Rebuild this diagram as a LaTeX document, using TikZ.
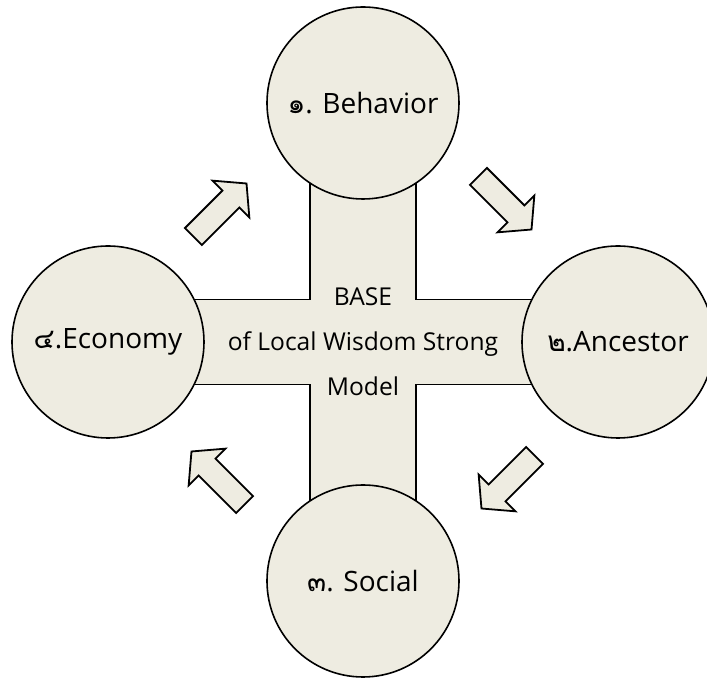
\documentclass[tikz,border=0pt]{standalone}
\usepackage{fontspec}
\setmainfont{Open Sans}
\newfontfamily\thaifont[Script=Thai]{Loma}
\usepackage{tikz}
\usetikzlibrary{positioning, calc}
\definecolor{parchment}{RGB}{238,236,225}
\newcommand\thnum[1]{{\thaifont #1}}

\begin{document}
\begin{tikzpicture}[
    topic/.style={
        circle,
        draw=black,
        line width=0.8pt,
        fill=parchment,
        minimum size=96pt,
        inner sep=0pt,
        font=\fontsize{14}{16}\selectfont
      },
    bar/.style={draw=black, line width=0.8pt, fill=parchment},
    turn/.pic={
        \draw[draw=black, line width=0.9pt, fill=parchment, line join=miter]
          (-18.75pt,-6pt) -- (7.75pt,-6pt) -- (7.75pt,-13pt) -- (18.75pt,0pt)
          -- (7.75pt,13pt) -- (7.75pt,6pt) -- (-18.75pt,6pt) -- cycle;
      },
    node distance=119.5pt and 127.5pt,
    on grid
  ]
  \useasboundingbox (-181.5pt,-168pt) rectangle (172pt,171pt);

  % the cross behind the four circles
  \draw[bar] (-26.5pt,119.5pt) -- (26.5pt,119.5pt) -- (26.5pt,21.25pt)
    -- (127.5pt,21.25pt) -- (127.5pt,-21.25pt) -- (26.5pt,-21.25pt)
    -- (26.5pt,-119.5pt) -- (-26.5pt,-119.5pt) -- (-26.5pt,-21.25pt)
    -- (-127.5pt,-21.25pt) -- (-127.5pt,21.25pt) -- (-26.5pt,21.25pt) -- cycle;

  \node[align=center, font=\fontsize{12.3}{22.5}\selectfont]
  (base) at (0,0)
  {BASE \\ of Local Wisdom Strong \\ Model};

  \node[topic, above=of base] (behavior) {\thnum{๑}. Behavior};
  \node[topic, right=of base] (ancestor) {\thnum{๒}.Ancestor};
  \node[topic, below=of base] (social) {\thnum{๓}. Social};
  \node[topic, left=of base] (economy) {\thnum{๔}.Economy};

  % block arrows going round clockwise
  \pic[rotate=45] (turn1) at (-71.5pt,66pt) {turn};
  \pic[rotate=-45] (turn2) at (71pt,69.5pt) {turn};
  \pic[rotate=-135] (turn3) at (72.5pt,-70pt) {turn};
  \pic[rotate=135] (turn4) at (-72.5pt,-68pt) {turn};
\end{tikzpicture}
\end{document}
